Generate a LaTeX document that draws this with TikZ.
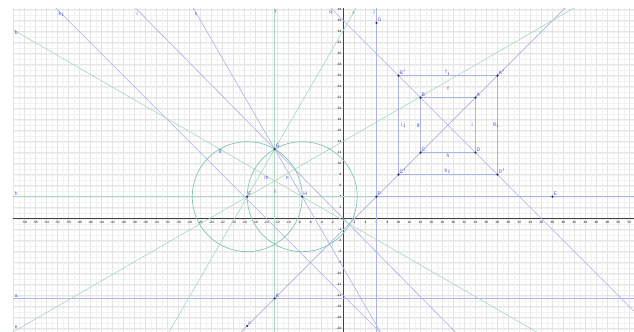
\documentclass[tikz,border=0pt]{standalone}
\usepackage{fontspec}
\setsansfont{Liberation Sans}
\usetikzlibrary{calc}
\definecolor{ggblue}{RGB}{172,178,226}
\definecolor{gggreen}{RGB}{170,214,194}
\definecolor{ggteal}{RGB}{130,198,186}
\definecolor{ggpoint}{RGB}{50,50,85}
\definecolor{gglabel}{RGB}{80,80,205}

\begin{document}
\begin{tikzpicture}[x=5.5pt,y=5.5pt,
    blueline/.style={ggblue,line width=0.6pt},
    greenline/.style={gggreen,line width=0.6pt},
    squareline/.style={ggblue,line width=0.8pt},
    pt/.style={circle,fill=ggpoint,inner sep=0pt,minimum size=2.4pt},
    lab/.style={font=\sffamily\fontsize{5}{5}\selectfont,text=gglabel,inner sep=1pt},
    ticklab/.style={font=\sffamily\fontsize{3.2}{3.2}\selectfont,inner sep=0.6pt}]
  \useasboundingbox (-62.45,-20.6) rectangle (52.82,39.76);
  % points of the construction
  \coordinate (A) at (24,22);  \coordinate (B) at (14,22);
  \coordinate (C) at (14,12);  \coordinate (D) at (24,12);
  \coordinate (A1) at (28,26); \coordinate (B1) at (10,26);
  \coordinate (C1) at (10,8);  \coordinate (D1) at (28,8);
  \coordinate (F) at (-17.5,4); \coordinate (H) at (-7.5,4);
  \coordinate (G) at (-12.5,12.66);
  \coordinate (P) at (6,4);    \coordinate (E) at (38,4);
  \coordinate (K) at (-12.5,-14.5);
  \coordinate (Cb) at (-17.5,-19.5);
  \coordinate (Gt) at (6,35.6);
  \coordinate (O) at (0,0);
  \begin{scope}
    \clip (-60.1,-20.6) rectangle (52.82,38.3);
    % grid
    \draw[gray!10,line width=0.3pt,step=1] (-61,-21) grid (53,39);
    \draw[gray!20,line width=0.4pt,step=2] (-62,-22) grid (54,40);
    % axes
    \draw[black!75,line width=0.5pt] (-61,0) -- (53,0);
    \draw[black!75,line width=0.5pt] (0,-21) -- (0,39);
    \foreach \x in {-58,-56,...,52}{\ifnum\x=0\else
      \node[ticklab,anchor=north] at (\x,-0.25){\x};\fi}
    \foreach \y in {-20,-18,...,38}{\ifnum\y=0\else
      \node[ticklab,anchor=east] at (-0.25,\y){\y};\fi}
    % lines
    \draw[blueline] (-61,-14.5) -- (53,-14.5);
    \draw[greenline] (-61,4) -- (P);
    \draw[blueline] (P) -- (53,4);
    \draw[greenline] ($(G)!-5!(K)$) -- ($(G)!5!(K)$);
    \draw[blueline] ($(P)!-5!(Gt)$) -- ($(P)!5!(Gt)$);
    \draw[blueline] ($(C1)!-8!(A1)$) -- ($(C1)!8!(A1)$);
    \draw[blueline] ($(B1)!-8!(D1)$) -- ($(B1)!8!(D1)$);
    \draw[blueline] ($(O)!-8!(G)$) -- ($(O)!8!(G)$);
    \draw[blueline] ($(0,-14)!-80!(1,-15)$) -- ($(0,-14)!80!(1,-15)$);
    \draw[blueline] ($(G)!-8!(H)$) -- ($(G)!8!(H)$);
    \draw[greenline] ($(F)!-8!(G)$) -- ($(F)!8!(G)$);
    \draw[greenline] ($(H)!-8!($(H)+(-8.66,5)$)$) -- ($(H)!8!($(H)+(-8.66,5)$)$);
    \draw[greenline] ($(F)!-8!($(F)+(8.66,5)$)$) -- ($(F)!8!($(F)+(8.66,5)$)$);
    % circles
    \draw[ggteal,line width=0.7pt] (F) circle[radius=10];
    \draw[ggteal,line width=0.7pt] (H) circle[radius=10];
    % squares
    \draw[squareline] (A) -- (B) -- (C) -- (D) -- cycle;
    \draw[squareline] (A1) -- (B1) -- (C1) -- (D1) -- cycle;
  \end{scope}
  % points and labels
  \foreach \p in {A,B,C,D,A1,B1,C1,D1,F,H,G,P,E,K,Cb,Gt}{\node[pt] (n\p) at (\p){};}
  \node[lab,above right] at (nA){A};
  \node[lab,above right] at (nB){B};
  \node[lab,above right] at (nC){C};
  \node[lab,above right] at (nD){D};
  \node[lab,above right] at (nA1){A$'$};
  \node[lab,above right] at (nB1){B$'$};
  \node[lab,above right] at (nC1){C$'$};
  \node[lab,above right] at (nD1){D$'$};
  \node[lab,above right] at (nF){F};
  \node[lab,above right] at (nH){H};
  \node[lab,above right] at (nG){G};
  \node[lab,above right] at (nP){P};
  \node[lab,above right] at (nE){E};
  \node[lab,above right] at (nK){K};
  \node[lab,above right] at (nCb){c};
  \node[lab,above right] at (nGt){G};
  \node[lab] (labf) at (19,23.7){f};
  \node[lab] (labg) at (13.6,17){g};
  \node[lab] (labh) at (19,11.5){h};
  \node[lab] (labi) at (23.4,17){i};
  \node[lab] (labfa) at (19,26.5){f$_1$};
  \node[lab] (labia) at (11,17){i$_1$};
  \node[lab] (labga) at (27.8,17){g$_1$};
  \node[lab] (labha) at (19,8.6){h$_1$};
  \node[lab] (labm) at (-14,7.4){m};
  \node[lab] (labn) at (-10.2,7.4){n};
  \node[lab] (labl) at (-12.4,4.9){l};
  \node[lab] (labgc) at (-22.4,12.1){g};
  \node[lab] (lbb) at (-59.5,33.8){b};
  \node[lab] (lbh) at (-59.5,4.6){h};
  \node[lab] (lba) at (-59.5,-14){a};
  \node[lab] (lbe) at (-59.5,-19.8){e};
  \node[lab] (lbk) at (-51.2,37.2){k$_1$};
  \node[lab] (lbi) at (-37.5,37.2){i};
  \node[lab] (lbc) at (-26.8,37.2){c};
  \node[lab] (lbf) at (-12.3,37.6){f};
  \node[lab] (lbq) at (-2.3,37.4){q};
  \node[lab] (lbr) at (1.8,37.4){r};
  \node[lab] (lbj) at (5.6,37.6){j};
\end{tikzpicture}
\end{document}
